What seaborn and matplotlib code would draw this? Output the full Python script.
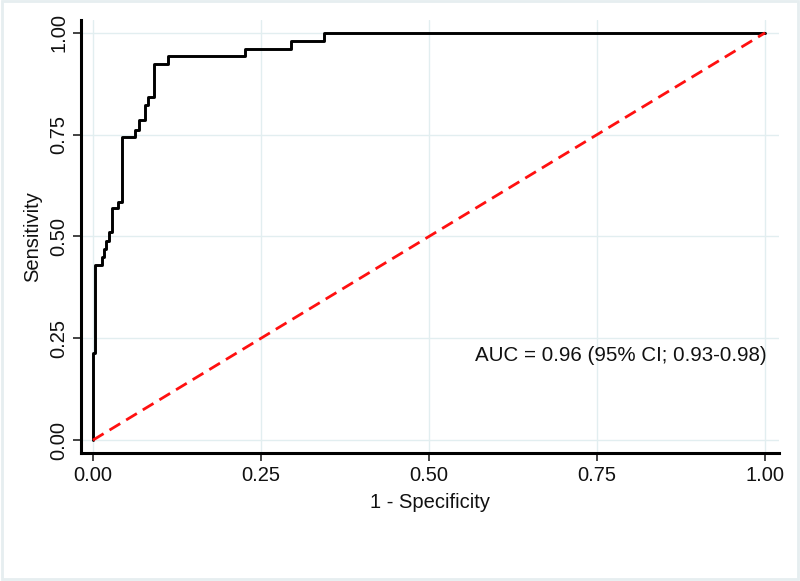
import matplotlib
matplotlib.use("Agg")
import matplotlib.pyplot as plt
from matplotlib import font_manager
import numpy as np
import pandas as pd
import seaborn as sns

# ROC curve (vertices of the step curve)
fpr = [0.0, 0.0, 0.003, 0.013, 0.016, 0.020, 0.024, 0.029, 0.038, 0.043,
       0.0625, 0.069, 0.077, 0.082, 0.091, 0.111, 0.226, 0.295, 0.344, 1.0]
tpr = [0.0, 0.213, 0.43, 0.45, 0.47, 0.49, 0.51, 0.57, 0.585, 0.745,
       0.762, 0.785, 0.823, 0.843, 0.923, 0.942, 0.96, 0.98, 1.0, 1.0]
ref_line = [0.0, 1.0]
ticks = [0.0, 0.25, 0.5, 0.75, 1.0]
tick_labels = ["0.00", "0.25", "0.50", "0.75", "1.00"]
auc_text = "AUC = 0.96 (95% CI; 0.93-0.98)"

sns.set_theme(style="white")
installed = {f.name for f in font_manager.fontManager.ttflist}
narrow = "Liberation Sans Narrow" if "Liberation Sans Narrow" in installed else "Liberation Sans"
plt.rcParams["font.family"] = ["Liberation Sans", "DejaVu Sans"]

roc = pd.DataFrame({"fpr": fpr, "tpr": tpr})

fig = plt.figure(figsize=(8, 5.81), dpi=100, facecolor="white")
ax = fig.add_axes([0.101, 0.220, 0.873, 0.746])

grid_col = "#e2eef0"
for t in ticks:
    ax.axhline(t, color=grid_col, lw=1, zorder=0)
    ax.axvline(t, color=grid_col, lw=1, zorder=0)

sns.lineplot(data=roc, x="fpr", y="tpr", drawstyle="steps-post", color="black",
             lw=2.1, estimator=None, sort=False, ax=ax, zorder=3)
ax.plot(ref_line, ref_line, color="#ff1010", lw=2.0, ls=(0, (4.5, 2.5)), zorder=4)

ax.set_xlim(-0.018, 1.021)
ax.set_ylim(-0.032, 1.032)
ax.set_xticks(ticks)
ax.set_yticks(ticks)
ax.set_xticklabels(tick_labels, fontsize=14.5, family=narrow)
ax.set_yticklabels(tick_labels, fontsize=14.5, family=narrow, rotation=90, va="center")
ax.tick_params(axis="both", direction="out", length=6, width=1.2, color="#222222",
               labelcolor="#111111", pad=3, bottom=True, left=True)

ax.set_xlabel("1 - Specificity", fontsize=14.5, family=narrow, color="#111111", labelpad=6)
ax.set_ylabel("Sensitivity", fontsize=14.5, family=narrow, color="#111111", labelpad=5)

for side in ["top", "right"]:
    ax.spines[side].set_visible(False)
for side in ["left", "bottom"]:
    ax.spines[side].set_color("black")
    ax.spines[side].set_linewidth(2.2)

ax.text(0.568, 0.209, auc_text, fontsize=14.8, color="#111111", va="center", ha="left")

# faint frame around the whole graph
fig.patches.append(plt.Rectangle((0.002, 0.004), 0.996, 0.994, transform=fig.transFigure,
                                 fill=False, edgecolor="#e6eef0", lw=2))

fig.savefig("out.png", dpi=100, facecolor="white")
